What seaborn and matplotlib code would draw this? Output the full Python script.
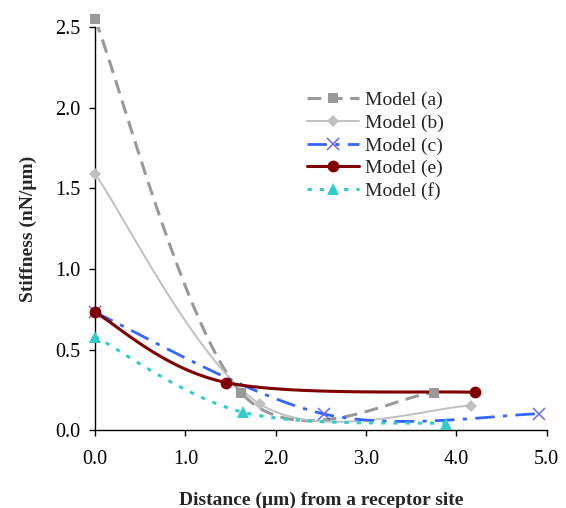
import numpy as np
import pandas as pd
import matplotlib
matplotlib.use("Agg")
import matplotlib.pyplot as plt
from matplotlib.lines import Line2D
import seaborn as sns

sns.set_theme(style="ticks")
plt.rcParams["font.family"] = ["Liberation Serif", "DejaVu Serif"]

# Distance (um) and stiffness (nN/um) for each model
dist_a = [0.0, 1.62, 3.75]
stiff_a = [2.55, 0.23, 0.23]
dist_b = [0.0, 1.83, 4.16]
stiff_b = [1.59, 0.16, 0.15]
dist_c = [0.0, 2.53, 4.91]
stiff_c = [0.73, 0.10, 0.10]
dist_e = [0.0, 1.45, 4.21]
stiff_e = [0.73, 0.295, 0.234]
dist_f = [0.0, 1.64, 3.89]
stiff_f = [0.58, 0.11, 0.04]

labels = ["Model (a)", "Model (b)", "Model (c)", "Model (e)", "Model (f)"]
x_ticks = [0.0, 1.0, 2.0, 3.0, 4.0, 5.0]
y_ticks = [0.0, 0.5, 1.0, 1.5, 2.0, 2.5]


def smooth(xs, ys, n=60):
    """Cubic Bezier smoothing through the points (Catmull-Rom style)."""
    p = np.column_stack([xs, ys]).astype(float)
    m = len(p)
    out = []
    for i in range(m - 1):
        p0 = p[i - 1] if i > 0 else p[i]
        p1 = p[i]
        p2 = p[i + 1]
        p3 = p[i + 2] if i + 2 < m else p[i + 1]
        c1 = p1 + (p2 - p0) / 6.0
        c2 = p2 - (p3 - p1) / 6.0
        t = np.linspace(0, 1, n)[:, None]
        seg = ((1 - t) ** 3) * p1 + 3 * ((1 - t) ** 2) * t * c1 + 3 * (1 - t) * t ** 2 * c2 + t ** 3 * p2
        out.append(seg if i == 0 else seg[1:])
    s = np.vstack(out)
    return s[:, 0], s[:, 1]


series = [
    dict(x=dist_a, y=stiff_a, color="#999999", mcolor="#999999", ls=(0, (4.5, 2.5)), lw=2.2,
         marker="s", ms=7.5, mew=0),
    dict(x=dist_b, y=stiff_b, color="#C0C0C0", mcolor="#C0C0C0", ls="-", lw=1.4,
         marker="D", ms=6.5, mew=0),
    dict(x=dist_c, y=stiff_c, color="#3366FF", mcolor="#6666FF", ls=(0, (7, 3, 1.5, 3)), lw=2.0,
         marker="x", ms=9, mew=1.1),
    dict(x=dist_e, y=stiff_e, color="#800000", mcolor="#800000", ls="-", lw=2.2,
         marker="o", ms=8.5, mew=0),
    dict(x=dist_f, y=stiff_f, color="#33CCCC", mcolor="#33CCCC", ls=(0, (1.4, 2.6)), lw=2.2,
         marker="^", ms=9, mew=0),
]

fig = plt.figure(figsize=(5.66, 5.08), dpi=100)
ax = fig.add_axes([0.168, 0.1535, 0.798, 0.7925])

handles = []
for s, lab in zip(series, labels):
    sx, sy = smooth(s["x"], s["y"])
    curve = pd.DataFrame({"x": sx, "y": sy})
    sns.lineplot(data=curve, x="x", y="y", sort=False, estimator=None, ax=ax,
                 color=s["color"], linewidth=s["lw"], linestyle=s["ls"], clip_on=True)
    ax.plot(s["x"], s["y"], linestyle="none", marker=s["marker"], markersize=s["ms"],
            color=s["mcolor"], markeredgewidth=s["mew"], markeredgecolor=s["mcolor"],
            clip_on=False, zorder=5)
    handles.append(Line2D([], [], color=s["color"], linestyle=s["ls"], linewidth=s["lw"],
                          marker=s["marker"], markersize=s["ms"], markerfacecolor=s["mcolor"],
                          markeredgecolor=s["mcolor"], markeredgewidth=s["mew"]))

ax.set_xlim(0, 5.0)
ax.set_ylim(0, 2.5)
ax.set_xticks(x_ticks)
ax.set_yticks(y_ticks)
ax.set_xticklabels([f"{v:.1f}" for v in x_ticks], fontsize=14.5)
ax.set_yticklabels([f"{v:.1f}" for v in y_ticks], fontsize=14.5)
ax.tick_params(direction="out", length=4.5, width=1, color="black", labelcolor="black")
ax.tick_params(axis="x", pad=10)
ax.tick_params(axis="y", pad=6)
for side in ["top", "right"]:
    ax.spines[side].set_visible(False)
for side in ["left", "bottom"]:
    ax.spines[side].set_color("black")
    ax.spines[side].set_linewidth(1)

ax.set_xlabel("Distance (\u00b5m) from a receptor site", fontsize=14, fontweight="bold", labelpad=16)
ax.set_ylabel("Stiffness (nN/\u00b5m)", fontsize=14, fontweight="bold", labelpad=13)

leg = ax.legend(handles, labels, loc="upper left", bbox_to_anchor=(0.469, 0.841), frameon=False,
                fontsize=14, handlelength=2.7, handletextpad=0.3, labelspacing=0.26,
                borderaxespad=0, borderpad=0)

fig.savefig("out.png", dpi=100)
